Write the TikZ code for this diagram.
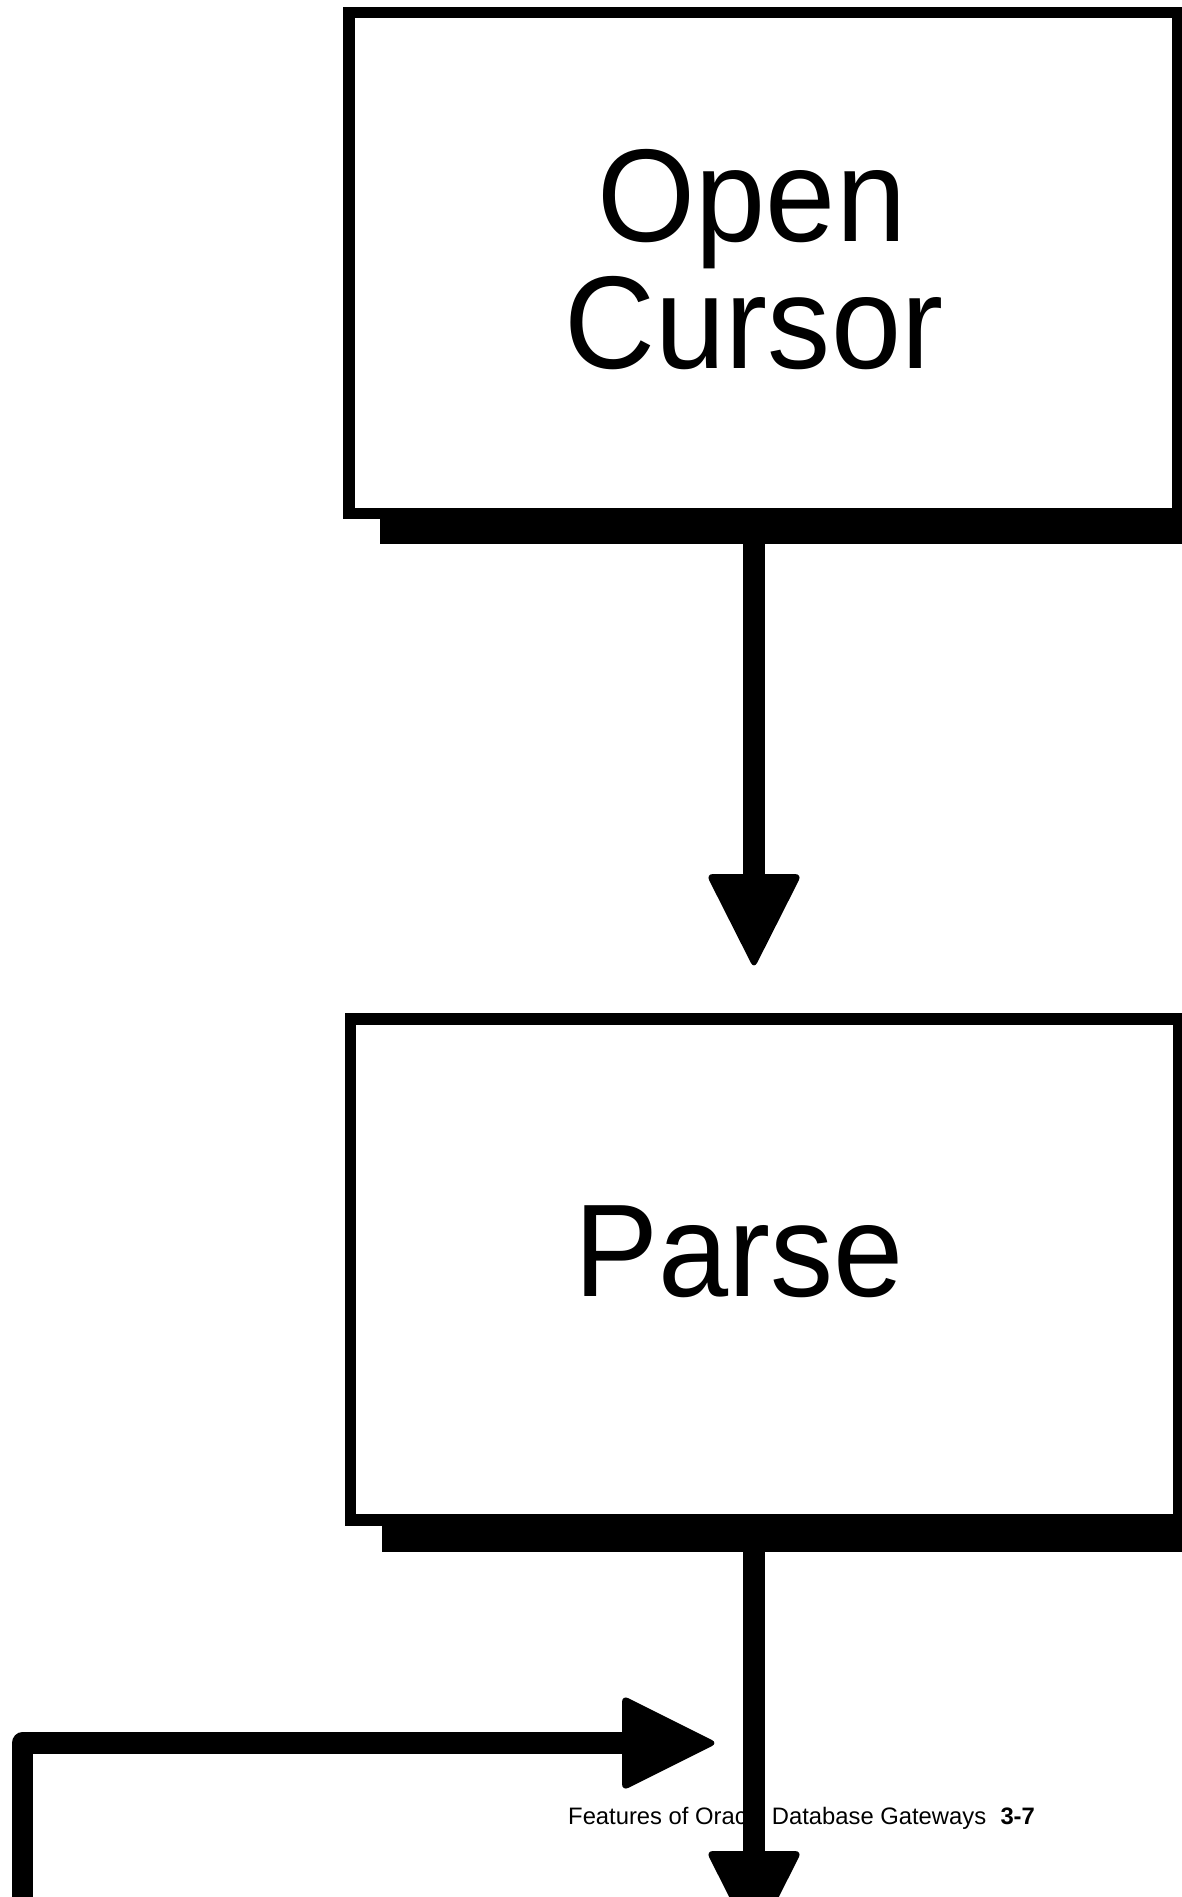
\documentclass[tikz,border=0pt]{standalone}
\usepackage{fontspec}
\setmainfont{Liberation Sans}
\begin{document}
\begin{tikzpicture}[x=1pt,y=-1pt,
  box/.style={draw=black, line width=11.5pt, fill=white, minimum width=828.5pt, minimum height=501pt, inner sep=0pt, outer sep=0pt},
  shadowfill/.style={fill=black},
  bigtext/.style={anchor=base, inner sep=0pt, font=\fontsize{132}{126}\selectfont},
  shaft/.style={draw=black, line width=22pt, line cap=butt},
  loopline/.style={draw=black, line width=21.5pt, line join=round, line cap=butt},
  head/.style={fill=black, rounded corners=7pt},
  footertext/.style={anchor=base west, inner sep=0pt, font=\fontsize{23.8}{28}\selectfont}]
\useasboundingbox (0,0) rectangle (1182,1897);
\clip (0,0) rectangle (1182,1897);
\fill[white] (0,0) rectangle (1182,1897);

% shadows
\fill[shadowfill] (380,500) rectangle (1200,544);
\fill[shadowfill] (382,1510) rectangle (1200,1552);

% boxes
\node[box] (open) at (763,263) {};
\node[box] (parse) at (764.5,1269.5) {};

% box texts
\node[bigtext] (opent) at (752,241) {\scalebox{0.955}[1]{Open}};
\node[bigtext] (cursort) at (754,368) {\scalebox{0.955}[1]{Cursor}};
\node[bigtext] (parset) at (739,1296) {\scalebox{0.955}[1]{Parse}};

% footer text (partly covered by the connector)
\node[footertext] (footer) at (568,1824) {Features of Oracle Database Gateways\hspace{0.6em}\textbf{3-7}};

% arrow 1: Open Cursor -> Parse
\coordinate (h1) at (754,875);
\draw[shaft] (open.south -| h1) -- (h1);
\fill[head] (h1) ++(-48,-1) -- ++(96,0) -- ++(-48,95) -- cycle;

% arrow 2: Parse -> below
\coordinate (h2) at (754,1852);
\draw[shaft] (parse.south -| h2) -- (h2);
\fill[head] (h2) ++(-48,-1) -- ++(96,0) -- ++(-48,95) -- cycle;

% loop arrow from the left
\coordinate (loopstart) at (22.5,1920);
\coordinate (loopcorner) at (22.5,1743);
\coordinate (h3) at (623,1743);
\draw[loopline] (loopstart) -- (loopcorner) -- (h3);
\fill[head] (h3) ++(-1,-48) -- ++(0,96) -- ++(96,-48) -- cycle;
\end{tikzpicture}
\end{document}
